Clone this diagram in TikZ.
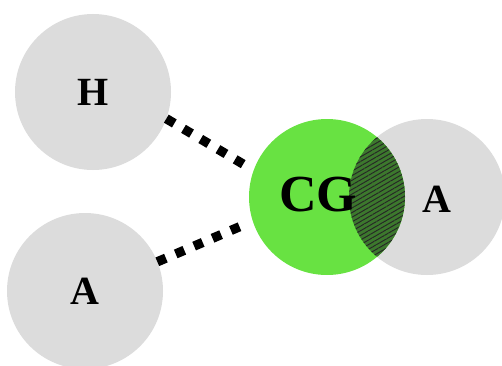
\documentclass[tikz,border=0pt]{standalone}
\usepackage{fontspec}
\setmainfont{Liberation Serif}
\usetikzlibrary{patterns.meta}
\definecolor{ballgray}{RGB}{220,220,220}
\definecolor{cggreen}{RGB}{104,226,66}
\definecolor{lensgreen}{RGB}{60,120,45}
\tikzset{
  ball/.style={circle,fill=ballgray,minimum size=117pt,inner sep=0pt,outer sep=0pt},
  bond/.style={line width=7pt,dash pattern=on 7pt off 8pt,shorten >=4pt},
  lbl/.style={font=\bfseries\fontsize{30}{32}\selectfont},
}
\begin{document}
\begin{tikzpicture}[x=0.75pt,y=0.75pt]
		\useasboundingbox (0,0) rectangle (502,365);
		\node[ball,lbl] (H) at (93,273) {H};
		\node[ball,lbl] (A1) at (85,74) {A};
		
		\node[ball] (A2) at (427,168) {};
		\node[ball,fill=cggreen] (CG) at (327,168) {};
		
		% overlap of the two right balls
		\begin{scope}
			\clip (CG.center) circle (78);
			\fill[lensgreen] (A2.center) circle (78);
			\fill[pattern={Lines[angle=30,distance=3pt,line width=0.7pt]},pattern color=black!85] (A2.center) circle (78);
		\end{scope}
		
		\node[font=\bfseries\fontsize{39}{42}\selectfont] (cgtext) at (318,170) {CG};
		\node[lbl] (a2text) at (437,166) {A};
		
		\draw[bond] (H.-20) -- (CG.160);
		\draw[bond] (A1.22) -- (CG.198);
\end{tikzpicture}
\end{document}
